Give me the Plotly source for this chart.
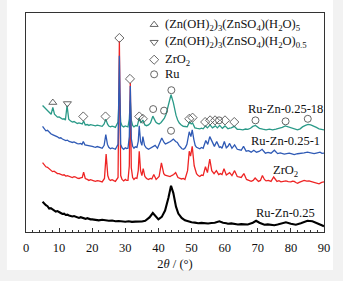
import plotly.graph_objects as go

# ---- data: (2theta in degrees, intensity in arbitrary offset units) ----
black_pts = [(5, 31), (5.5, 29), (6, 27.5), (6.5, 26.5), (7, 24), (7.5, 24.5), (8, 23), (8.5, 22), (9, 21),
             (9.5, 21.5), (10, 20), (10.5, 19.5), (11, 18.5), (11.5, 18.8), (12, 17.5), (12.5, 17.8), (13, 17),
             (13.5, 16.2), (14, 16), (14.5, 16.4), (15, 15.5), (15.5, 15), (16, 14.5), (16.5, 15.2), (17, 14.5),
             (17.5, 14), (18, 13.5), (18.5, 14.2), (19, 13.5), (19.5, 13), (20, 13), (21, 12.6), (22, 12),
             (23, 12.5), (24, 12), (25, 11.5), (26, 11.8), (27, 11), (28, 11.3), (29, 10.8), (30, 10.5), (31, 11),
             (32, 10.4), (33, 10.7), (34, 10.5), (35, 10.8), (36, 11.5), (37.3, 15), (38.3, 19.5), (39.2, 16),
             (40, 13), (41, 15.5), (42, 22), (43, 35), (43.8, 47.5), (44.5, 40), (45.3, 26), (46, 19), (47, 14.5),
             (48, 12), (49, 10.8), (50, 10), (51, 9.6), (52, 9), (53, 9.4), (54, 8.8), (55, 8.7), (56, 9.2),
             (57, 9.5), (58.4, 11), (59.5, 9.5), (60.5, 9), (61, 8.5), (62, 8.8), (63, 8.2), (64, 7.7), (65, 8.1),
             (66, 7.6), (67, 7.7), (68.5, 9.5), (69.5, 11.5), (70.5, 9.5), (71.5, 8.2), (72, 7.5), (73, 7.8),
             (74, 7.2), (75, 7), (76, 7.6), (77, 8.5), (78.5, 10), (80, 8.5), (81.5, 7.5), (83, 9), (84, 10),
             (85, 11.5), (86.5, 11), (88, 8.5), (89, 7), (90, 6)]

red_pts = [(5, 71.3), (5.5, 69), (6, 67), (6.5, 66.5), (7, 65), (7.5, 63.5), (8, 62), (8.5, 62.5), (9, 61.5),
           (9.5, 60), (10, 60), (10.5, 59.2), (11, 58.5), (11.5, 58.8), (12, 57.5), (12.5, 57.8), (13, 57),
           (13.5, 56.2), (14, 56), (14.5, 56.8), (15, 56.5), (15.5, 55.3), (16, 55), (16.5, 55.6), (17.0, 56),
           (17.4, 61.5), (17.9, 55), (18.5, 54), (19, 53), (19.5, 53.8), (20, 53.5), (20.5, 52.6), (21, 52),
           (21.5, 52.8), (22, 52.5), (22.5, 51.8), (23, 51.5), (23.7, 55), (24.2, 80), (24.7, 58), (25.1, 54),
           (25.5, 53), (26, 53.8), (26.5, 52.8), (27, 52), (27.8, 56), (28.2, 196), (28.6, 58), (29, 54),
           (29.5, 52.5), (30, 54), (30.4, 53), (30.8, 53), (31.2, 68), (31.5, 153), (31.8, 66), (32.2, 56),
           (32.6, 54), (33, 55.5), (33.5, 55), (33.9, 63), (34.2, 83), (34.6, 63), (35.0, 58), (35.4, 65),
           (35.9, 57), (36.4, 55), (37, 54), (37.5, 55), (38, 54.5), (38.6, 59), (39.3, 54), (39.8, 55.5),
           (40.2, 57), (40.9, 71), (41.6, 60), (42, 58.5), (42.5, 58), (43, 57.5), (43.5, 57), (44, 58),
           (44.6, 59), (45.2, 61), (45.9, 56), (46.5, 55.2), (47, 54.5), (47.5, 55), (48, 54), (48.8, 63),
           (49.3, 83), (49.7, 78), (50.2, 88), (50.8, 68), (51.5, 60), (52, 58), (52.5, 57), (53, 58.5),
           (53.5, 58), (54.2, 67), (54.8, 61), (55.5, 75), (56.1, 63), (56.8, 60), (57.5, 63), (58.2, 59),
           (58.7, 60), (59.2, 59), (59.8, 65), (60.5, 58.5), (61, 59.5), (61.5, 61), (62.2, 58), (63.0, 63),
           (63.8, 57), (64.4, 56.5), (65.0, 56), (65.8, 60), (66.6, 54), (67.3, 53), (68, 52), (68.6, 53),
           (69.2, 55.5), (70.2, 52), (70.8, 53), (71.4, 58), (72, 54), (72.5, 52.5), (73.2, 53), (74, 52),
           (74.8, 56.5), (75.8, 52), (76.4, 52.8), (77, 51.5), (77.8, 52.4), (78.5, 52.5), (79.2, 51.8),
           (80, 51.5), (80.5, 52.3), (81, 52), (81.5, 50.8), (82, 50), (82.5, 51), (83, 51.5), (83.5, 52.4),
           (84, 53), (84.8, 52.2), (85.5, 52.5), (86.2, 51.8), (87, 51), (87.7, 50.4), (88.5, 49.5), (89.3, 51),
           (90, 51.5)]

blue_pts = [(5, 108.5), (5.5, 106), (6, 104), (6.5, 104.5), (7, 102.5), (7.5, 101), (8, 100), (8.5, 99.5),
            (9, 98.5), (9.5, 97.8), (10, 96.5), (10.5, 96.8), (11, 95.5), (11.5, 94.6), (12, 94), (12.5, 94.4),
            (13, 93), (13.5, 92.6), (14, 92), (14.5, 92.5), (15, 91.5), (15.5, 90.8), (16, 90.5), (16.5, 91),
            (16.9, 90), (17.3, 93), (17.8, 89.5), (18.4, 89.2), (19, 88.5), (19.5, 89), (20, 88), (20.5, 87.4),
            (21, 87), (21.5, 87.8), (22, 87.5), (22.5, 86.6), (23, 86), (23.6, 89), (24.1, 100), (24.6, 90),
            (25, 87), (25.5, 85.5), (26, 86.4), (26.5, 86), (27, 85), (27.8, 90), (28.2, 181), (28.6, 90),
            (29, 86.5), (29.5, 85), (30, 86.5), (30.4, 85.8), (30.8, 86), (31.2, 98), (31.5, 150), (31.8, 96),
            (32.2, 88), (32.6, 86), (33, 87.5), (33.5, 87), (33.9, 93), (34.2, 109), (34.6, 93), (35.0, 89),
            (35.3, 98), (35.8, 89), (36.3, 86.5), (37, 85), (37.6, 86.2), (38.3, 87), (39.0, 89), (39.7, 86),
            (40.3, 91), (41.0, 96.5), (41.7, 92), (42.1, 90.5), (42.5, 91), (43.2, 92), (43.6, 93), (44.0, 94),
            (44.5, 95.5), (45.2, 93), (45.7, 92), (46.2, 89), (46.6, 87), (47.1, 85.5), (47.6, 85), (48.1, 86.5),
            (48.6, 90), (49.3, 103), (49.8, 98), (50.2, 105), (50.7, 95), (51.1, 89), (51.5, 87), (52, 86.5),
            (52.5, 85.5), (53, 86.8), (53.5, 86), (54.3, 94), (54.9, 90), (55.5, 98), (56.1, 93), (56.5, 89.5),
            (56.9, 88), (57.6, 93), (58.4, 87), (58.8, 87.6), (59.2, 86), (59.9, 93), (60.5, 86.5), (61, 88),
            (61.5, 91), (62.2, 86), (63.0, 89.5), (63.8, 85), (64.4, 84.8), (65.0, 84), (65.7, 88), (66.5, 83),
            (67.2, 83.5), (68, 82), (68.8, 84), (69.6, 82), (70.4, 82.8), (71.3, 85), (72.3, 81), (73.1, 81.8),
            (74, 81), (75.0, 84), (76, 80.5), (76.8, 81.2), (78, 80), (78.7, 80.8), (79.5, 81), (80.3, 80.2),
            (81, 79.5), (82, 80.4), (83, 80.5), (84, 81.3), (85, 82), (86, 81), (87, 80.5), (88, 81.4),
            (88.8, 82), (89.4, 80.8), (90, 81)]

teal_pts = [(5, 130), (5.5, 128), (6, 126), (6.5, 124.5), (7, 123), (7.6, 121), (8.1, 128), (8.6, 121),
            (9, 119.5), (9.5, 118), (10, 118.3), (10.5, 117.2), (11, 116), (11.5, 116.3), (11.9, 115),
            (12.4, 130), (12.9, 116), (13.4, 114.2), (14, 113), (14.5, 113.5), (15, 112.5), (15.5, 111.5),
            (16, 112), (16.5, 111.2), (17, 111), (17.4, 114), (17.9, 110), (18.5, 110.4), (19, 109.5),
            (19.5, 110.2), (20, 110), (20.5, 109.2), (21, 109), (21.5, 109.8), (22, 109.5), (22.5, 108.8),
            (23, 108.5), (23.6, 111), (24.1, 116), (24.6, 111), (25, 108.8), (25.5, 108), (26, 108.8),
            (26.5, 108.3), (27, 107.5), (27.8, 113), (28.2, 143), (28.6, 113), (29, 109), (29.5, 108), (30, 109),
            (30.4, 108.4), (30.8, 108), (31.2, 116), (31.5, 135), (31.8, 115), (32.2, 109.5), (32.6, 108),
            (33.1, 109.4), (33.6, 109), (34.2, 117), (34.7, 112), (35.3, 115), (35.9, 110), (36.4, 109.2),
            (37, 110), (37.6, 112), (38.3, 119), (38.8, 115), (39.2, 113), (39.7, 111.5), (40.2, 111),
            (40.8, 112.5), (41.3, 115), (41.8, 117), (42.3, 121), (42.8, 127), (43.2, 134), (43.8, 141),
            (44.5, 133), (44.9, 126), (45.3, 120), (45.8, 115), (46.3, 112), (46.9, 110), (47.5, 108.5),
            (48.1, 108.4), (48.7, 108), (49.4, 113), (49.9, 111), (50.3, 112), (50.7, 108.5), (51, 107),
            (51.7, 106.5), (52.5, 106), (53, 106.6), (53.5, 106), (54.2, 109), (54.8, 107), (55.6, 110),
            (56.3, 107), (57.2, 109), (57.8, 107), (58.5, 109.5), (59.3, 106.5), (60.1, 109), (61, 106),
            (61.5, 106.8), (62.0, 107), (62.9, 108.5), (63.8, 105.5), (64.6, 105.4), (65.5, 105), (66.3, 105.8),
            (67, 105.5), (67.8, 106.6), (68.5, 108.5), (69.3, 109.5), (70, 108), (70.5, 106.5), (71.5, 105.6),
            (72.5, 105), (73.5, 105.6), (74.5, 105), (75.5, 105.8), (76.5, 106.5), (77.4, 107.6), (78.3, 109),
            (79.2, 108), (80, 106.5), (81, 105.4), (82, 105), (82.8, 106), (83.5, 108), (84.4, 109.5),
            (85.2, 110.5), (86, 110), (86.8, 109), (87.7, 107.4), (88.5, 106), (89.3, 105.3), (90, 105)]

# phase markers
tri_up_x = [8.1]
tri_up_y = [133]
tri_dn_x = [12.5]
tri_dn_y = [132]
dia_x = [28.2, 31.4, 17.3, 24.0, 34.2, 35.3, 49.3, 50.3, 54.1, 55.6, 57.1, 60.1, 62.9]
dia_y = [199.3, 157.3, 118.7, 118.7, 118.7, 116.3, 116.3, 117.5, 113, 114.7, 114.7, 114.7, 113]
cir_x = [38.4, 41.7, 43.9, 43.8, 58.3, 69.3, 78.4, 85.1]
cir_y = [126.3, 124.7, 145.7, 104, 114.7, 114.7, 113.7, 116.3]

legend_labels = ["(Zn(OH)<sub>2</sub>)<sub>3</sub>(ZnSO<sub>4</sub>)(H<sub>2</sub>O)<sub>5</sub>",
                 "(Zn(OH)<sub>2</sub>)<sub>3</sub>(ZnSO<sub>4</sub>)(H<sub>2</sub>O)<sub>0.5</sub>",
                 "ZrO<sub>2</sub>",
                 "Ru"]
legend_symbols = ["triangle-up-open", "triangle-down-open", "diamond-open", "circle-open"]
legend_y = [213, 195, 177, 162]

curve_labels = ["Ru-Zn-0.25-18", "Ru-Zn-0.25-1", "ZrO<sub>2</sub>", "Ru-Zn-0.25"]
curve_label_y = [126.3, 93, 63, 19.7]

FONT = "Liberation Serif, Times New Roman, serif"
MK = "#555555"


def xs(p):
    return [a for a, _ in p]


def ys(p):
    return [b for _, b in p]


fig = go.Figure()
fig.add_trace(go.Scatter(x=xs(teal_pts), y=ys(teal_pts), mode="lines", line=dict(color="#2a9a88", width=1.3)))
fig.add_trace(go.Scatter(x=xs(red_pts), y=ys(red_pts), mode="lines", line=dict(color="#ee2424", width=1.3)))
fig.add_trace(go.Scatter(x=xs(blue_pts), y=ys(blue_pts), mode="lines", line=dict(color="#2f5ab5", width=1.3)))
fig.add_trace(go.Scatter(x=xs(black_pts), y=ys(black_pts), mode="lines", line=dict(color="#000000", width=2.1)))

for sx, sy, sym in [(tri_up_x, tri_up_y, "triangle-up-open"), (tri_dn_x, tri_dn_y, "triangle-down-open"),
                    (dia_x, dia_y, "diamond-open"), (cir_x, cir_y, "circle-open")]:
    fig.add_trace(go.Scatter(x=sx, y=sy, mode="markers",
                             marker=dict(symbol=sym, size=7, color=MK, line=dict(color=MK, width=0.9))))

# key
fig.add_trace(go.Scatter(x=[38.7] * 4, y=legend_y, mode="markers",
                         marker=dict(symbol=legend_symbols, size=7, color=MK, line=dict(color=MK, width=0.9))))
for lab, ly in zip(legend_labels, legend_y):
    fig.add_annotation(x=41.3, y=ly, text=lab, showarrow=False, xanchor="left", yanchor="middle",
                       font=dict(family=FONT, size=12.5, color="#111111"))

for lab, ly in zip(curve_labels, curve_label_y):
    fig.add_annotation(x=78.3, y=ly, text=lab, showarrow=False, xanchor="center", yanchor="middle",
                       font=dict(family=FONT, size=12.5, color="#111111"))

fig.update_layout(
    width=343, height=281,
    margin=dict(l=26, r=19, t=13, b=43),
    paper_bgcolor="#f2f2f2", plot_bgcolor="white",
    showlegend=False,
    font=dict(family=FONT, size=12.5, color="#111111"),
    shapes=[dict(type="rect", xref="paper", yref="paper", x0=-0.064, x1=1.03, y0=-0.173, y1=1.06,
                 fillcolor="white", line=dict(width=0), layer="below")],
)
fig.update_xaxes(range=[0, 90], dtick=10, tick0=0, ticks="inside", ticklen=4, tickwidth=1, tickcolor="#333",
                 showline=True, linecolor="#333", linewidth=1, mirror=True, showgrid=False, zeroline=False,
                 minor=dict(ticks="inside", dtick=2, ticklen=2, tickcolor="#333", showgrid=False),
                 tickfont=dict(family=FONT, size=12.5), ticklabelstandoff=4,
                 title=dict(text="2<i>θ</i> / (°)", font=dict(family=FONT, size=12.5), standoff=5))
fig.update_yaxes(range=[0, 225], showticklabels=False, ticks="", showline=True, linecolor="#333",
                 linewidth=1, mirror=True, showgrid=False, zeroline=False)

fig.write_html("out.html", config={"displayModeBar": False},
               post_script="document.body.style.margin='0';document.body.style.overflow='hidden';")
